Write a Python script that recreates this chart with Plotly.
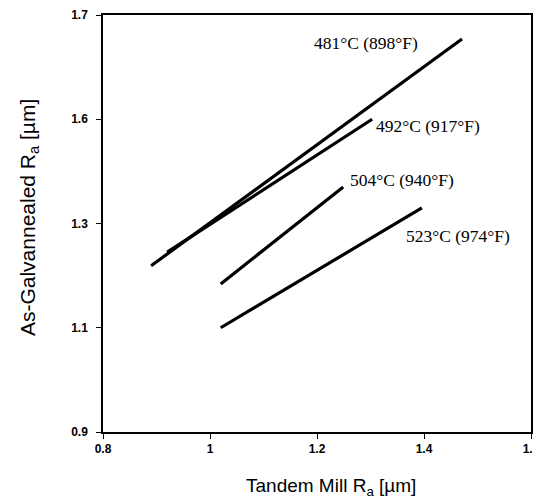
import plotly.graph_objects as go

labels = ["481°C (898°F)", "492°C (917°F)", "504°C (940°F)", "523°C (974°F)"]
x_start = [0.890, 0.920, 1.020, 1.020]
y_start = [1.219, 1.245, 1.184, 1.100]
x_end = [1.471, 1.303, 1.249, 1.396]
y_end = [1.654, 1.500, 1.370, 1.330]
label_x = [1.191, 1.307, 1.258, 1.363]
label_y = [1.646, 1.487, 1.384, 1.276]

y_tickvals = [0.9, 1.1, 1.3, 1.5, 1.7]
y_ticktext = ["0.9", "1.1", "1.3", "1.6", "1.7"]
x_tickvals = [0.8, 1.0, 1.2, 1.4, 1.6]
x_ticktext = ["0.8", "1", "1.2", "1.4", "1.6"]

x_title = "Tandem Mill R<sub>a</sub> [µm]"
y_title = "As-Galvannealed R<sub>a</sub> [µm]"

fig = go.Figure()
for i in range(len(labels)):
    fig.add_trace(go.Scatter(x=[x_start[i], x_end[i]], y=[y_start[i], y_end[i]],
                             mode="lines", line=dict(color="black", width=3.2),
                             showlegend=False, hoverinfo="skip"))
    fig.add_annotation(x=label_x[i], y=label_y[i], text=labels[i], showarrow=False,
                       xanchor="left", yanchor="middle",
                       font=dict(family="Liberation Serif", size=17.5, color="black"))

axis_common = dict(showline=True, linecolor="black", linewidth=1.5, mirror=True,
                   showgrid=False, zeroline=False, ticks="outside", ticklen=5,
                   tickcolor="black", ticklabeloverflow="allow", automargin=False,
                   tickfont=dict(family="Liberation Sans", size=12, color="black", weight="bold"))

fig.update_xaxes(range=[0.8, 1.6], tickvals=x_tickvals, ticktext=x_ticktext, **axis_common)
fig.update_yaxes(range=[0.9, 1.7], tickvals=y_tickvals, ticktext=y_ticktext,
                 ticklabelstandoff=6, **axis_common)

fig.add_annotation(xref="paper", yref="paper", x=0.533, y=0, yshift=-55,
                   xanchor="center", yanchor="middle", showarrow=False, text=x_title,
                   font=dict(family="Liberation Sans", size=19, color="black"))
fig.add_annotation(xref="paper", yref="paper", x=0, xshift=-74, y=0.513,
                   xanchor="center", yanchor="middle", showarrow=False, text=y_title,
                   textangle=-90,
                   font=dict(family="Liberation Sans", size=21, color="black"))

# page body has an 8px margin: figure spans x 8..541, y 8..504 in the window
fig.update_layout(width=533, height=496, margin=dict(l=95, r=10, t=7, b=72),
                  plot_bgcolor="white", paper_bgcolor="white")
fig.write_html("out.html")
